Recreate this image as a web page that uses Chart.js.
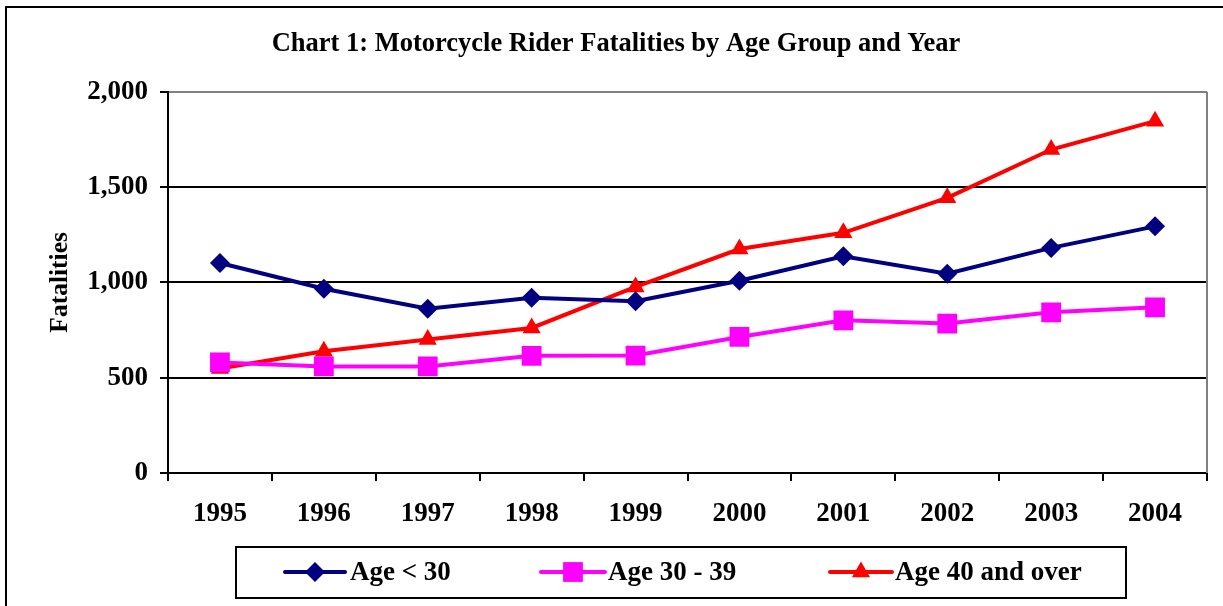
<!DOCTYPE html>
<html>
<head>
<meta charset="utf-8">
<script src="https://cdn.jsdelivr.net/npm/chart.js@4.4.1/dist/chart.umd.min.js"></script>
<style>
  html, body { margin: 0; padding: 0; background: #fff; }
  #wrap { width: 1223px; height: 606px; position: relative; }
</style>
</head>
<body>
<div id="wrap"><canvas id="c" width="1223" height="606"></canvas></div>
<script>
const years = ['1995','1996','1997','1998','1999','2000','2001','2002','2003','2004'];
const ageUnder30 = [1102, 967, 862, 919, 901, 1009, 1137, 1046, 1181, 1294];
const age30to39 = [580, 559, 559, 615, 616, 714, 801, 784, 843, 869];
const age40plus = [548, 639, 701, 761, 976, 1175, 1260, 1444, 1697, 1846];
const seriesLabels = ['Age < 30', 'Age 30 - 39', 'Age 40 and over'];
const yTicks = [0, 500, 1000, 1500, 2000];

const FONT = '"Liberation Serif", "Times New Roman", serif';

function drawMarker(ctx, style, x, y, r, color) {
  ctx.save();
  ctx.fillStyle = color;
  ctx.beginPath();
  if (style === 'rectRot') {
    ctx.moveTo(x, y - r); ctx.lineTo(x + r, y); ctx.lineTo(x, y + r); ctx.lineTo(x - r, y);
  } else if (style === 'rect') {
    const s = r * Math.SQRT1_2;
    ctx.rect(x - s, y - s, 2 * s, 2 * s);
  } else if (style === 'triangle') {
    ctx.moveTo(x, y - r);
    ctx.lineTo(x + r * Math.sin(2 * Math.PI / 3), y - r * Math.cos(2 * Math.PI / 3));
    ctx.lineTo(x + r * Math.sin(4 * Math.PI / 3), y - r * Math.cos(4 * Math.PI / 3));
  }
  ctx.closePath();
  ctx.fill();
  ctx.restore();
}

const framePlugin = {
  id: 'frame',
  beforeDraw(chart) {
    const ctx = chart.ctx;
    ctx.save();
    ctx.fillStyle = '#fff';
    ctx.fillRect(0, 0, chart.width, chart.height);
    ctx.restore();
  },
  afterDraw(chart) {
    const ctx = chart.ctx;
    const a = chart.chartArea;
    ctx.save();
    ctx.strokeStyle = '#000';
    ctx.lineWidth = 2;
    ctx.beginPath();
    ctx.moveTo(6, chart.height + 2);
    ctx.lineTo(6, 7);
    ctx.lineTo(chart.width + 2, 7);
    ctx.stroke();
    ctx.strokeStyle = '#808080';
    ctx.lineWidth = 2;
    ctx.beginPath();
    ctx.moveTo(a.right, a.top);
    ctx.lineTo(a.right, a.bottom);
    ctx.stroke();
    ctx.strokeStyle = '#000';
    ctx.lineWidth = 2;
    ctx.strokeRect(236, 547, 890, 51);
    const items = [
      {x0: 285, x1: 345, tx: 350},
      {x0: 541, x1: 605, tx: 608},
      {x0: 830, x1: 892, tx: 895}
    ];
    const cy = 572;
    chart.data.datasets.forEach((ds, i) => {
      const it = items[i];
      ctx.strokeStyle = ds.borderColor;
      ctx.lineWidth = 4;
      ctx.lineCap = 'round';
      ctx.beginPath();
      ctx.moveTo(it.x0, cy);
      ctx.lineTo(it.x1, cy);
      ctx.stroke();
      drawMarker(ctx, ds.pointStyle, (it.x0 + it.x1) / 2, cy, ds.pointRadius, ds.borderColor);
      ctx.fillStyle = '#000';
      ctx.font = 'bold 27px ' + FONT;
      ctx.textBaseline = 'middle';
      ctx.textAlign = 'left';
      ctx.fillText(ds.label, it.tx, cy + 1);
    });
    ctx.restore();
  }
};

new Chart(document.getElementById('c'), {
  type: 'line',
  data: {
    labels: years,
    datasets: [
      { label: seriesLabels[0], data: ageUnder30, borderColor: '#000080', backgroundColor: '#000080',
        borderWidth: 4, pointStyle: 'rectRot', pointRadius: 10, pointBorderWidth: 0, tension: 0 },
      { label: seriesLabels[1], data: age30to39, borderColor: '#FF00FF', backgroundColor: '#FF00FF',
        borderWidth: 4, pointStyle: 'rect', pointRadius: 14, pointBorderWidth: 0, tension: 0 },
      { label: seriesLabels[2], data: age40plus, borderColor: '#FF0000', backgroundColor: '#FF0000',
        borderWidth: 4, pointStyle: 'triangle', pointRadius: 10.5, pointBorderWidth: 0, tension: 0 }
    ]
  },
  options: {
    responsive: false,
    animation: false,
    devicePixelRatio: 1,
    layout: { padding: { left: 25, right: 16, top: 0, bottom: 73 } },
    plugins: {
      legend: { display: false },
      tooltip: { enabled: false },
      title: {
        display: true,
        text: 'Chart 1: Motorcycle Rider Fatalities by Age Group and Year',
        color: '#000',
        font: { family: FONT, size: 26.5, weight: 'bold', lineHeight: 1.2 },
        padding: { top: 28, bottom: 32 }
      }
    },
    scales: {
      x: {
        offset: true,
        grid: { display: true, drawOnChartArea: false, drawTicks: true, tickLength: 8, color: '#000', lineWidth: 2, offset: true },
        border: { display: true, color: '#000', width: 2 },
        ticks: { color: '#000', font: { family: FONT, size: 27, weight: 'bold' }, padding: 17, maxRotation: 0 },
        afterFit(s) { s.height = 60; }
      },
      y: {
        min: 0, max: 2000,
        afterBuildTicks(s) { s.ticks = yTicks.map(v => ({ value: v })); },
        grid: {
          drawOnChartArea: true, drawTicks: true, tickLength: 8, lineWidth: 2,
          color: ctx => (ctx.tick && ctx.tick.value === 2000) ? '#808080' : '#000',
          tickColor: '#000'
        },
        border: { display: true, color: '#000', width: 2 },
        ticks: { color: '#000', font: { family: FONT, size: 27, weight: 'bold' }, padding: 12,
          callback: v => v.toLocaleString('en-US') },
        title: { display: true, text: 'Fatalities', color: '#000',
          font: { family: FONT, size: 25.5, weight: 'bold', lineHeight: 1.2 }, padding: { top: 20, bottom: 0 } },
        afterFit(s) { s.width = 143; }
      }
    }
  },
  plugins: [framePlugin]
});
</script>
</body>
</html>
